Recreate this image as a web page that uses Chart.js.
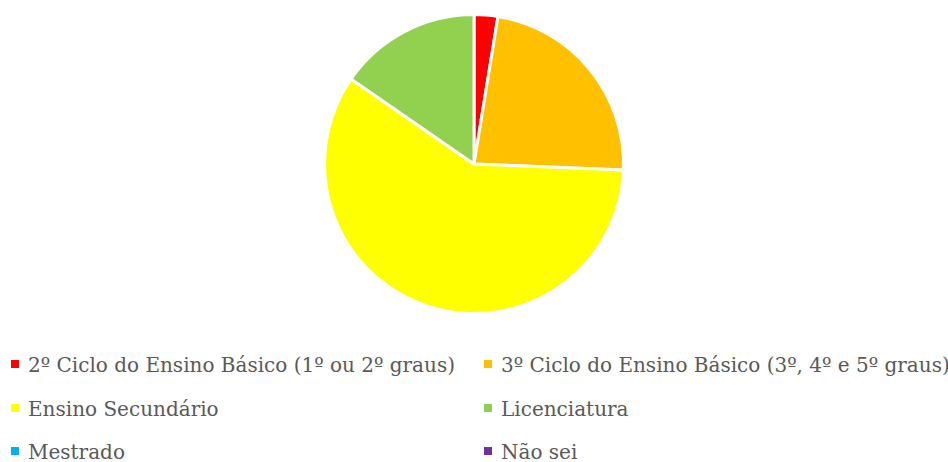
<!DOCTYPE html>
<html lang="pt">
<head>
  <meta charset="utf-8">
  <title>Habilitações literárias</title>
  <script src="https://cdn.jsdelivr.net/npm/chart.js@4.4.1/dist/chart.umd.min.js"></script>
  <style>
    html, body {
      margin: 0;
      padding: 0;
      background: #ffffff;
    }

    #page {
      position: relative;
      width: 948px;
      height: 462px;
      overflow: hidden;
    }

    #chart-container {
      position: absolute;
      left: 0;
      top: 0;
      width: 948px;
      height: 327px;
    }

    /* legenda em duas colunas, como no relatório */
    #legend {
      position: absolute;
      left: 0;
      top: 352px;
      width: 948px;
      font-family: "DejaVu Serif", serif;
      font-size: 20px;
      color: #595959;
    }

    .item {
      position: absolute;
      white-space: nowrap;
      line-height: 26px;
    }

    .item .box {
      position: absolute;
      left: 0;
      top: 8px;
      width: 8px;
      height: 8px;
    }

    .item .txt {
      position: absolute;
      left: 17px;
      top: 0;
    }
  </style>
</head>
<body>
  <div id="page">
    <div id="chart-container">
      <canvas id="chart"></canvas>
    </div>
    <div id="legend"></div>
  </div>

  <script>
    // categorias e número de respostas
    var categorias = [
      "2º Ciclo do Ensino Básico (1º ou 2º graus)",
      "3º Ciclo do Ensino Básico (3º, 4º e 5º graus)",
      "Ensino Secundário",
      "Licenciatura",
      "Mestrado",
      "Não sei"
    ];
    var respostas = [1, 9, 23, 6, 0, 0];
    var cores = ["#FF0000", "#FFC000", "#FFFF00", "#92D050", "#00B0F0", "#7030A0"];

    var ctx = document.getElementById('chart').getContext('2d');
    var grafico = new Chart(ctx, {
      type: 'pie',
      data: {
        labels: categorias,
        datasets: [{
          data: respostas,
          backgroundColor: cores,
          borderColor: '#ffffff',
          borderWidth: 3
        }]
      },
      options: {
        responsive: true,
        maintainAspectRatio: false,
        animation: false,
        layout: {
          padding: { top: 13, bottom: 12, left: 0, right: 0 }
        },
        plugins: {
          legend: { display: false },
          tooltip: { enabled: false }
        }
      }
    });

    // legenda: itens da esquerda e da direita alternados
    var legenda = document.getElementById('legend');
    var colunasX = [11, 484];
    var linhaAltura = 43.5;
    grafico.legend.legendItems.forEach(function (item, i) {
      var el = document.createElement('div');
      el.className = 'item';
      el.style.left = colunasX[i % 2] + 'px';
      el.style.top = (Math.floor(i / 2) * linhaAltura) + 'px';

      var box = document.createElement('span');
      box.className = 'box';
      box.style.background = item.fillStyle;

      var txt = document.createElement('span');
      txt.className = 'txt';
      txt.textContent = item.text;

      el.appendChild(box);
      el.appendChild(txt);
      legenda.appendChild(el);
    });
  </script>
</body>
</html>
